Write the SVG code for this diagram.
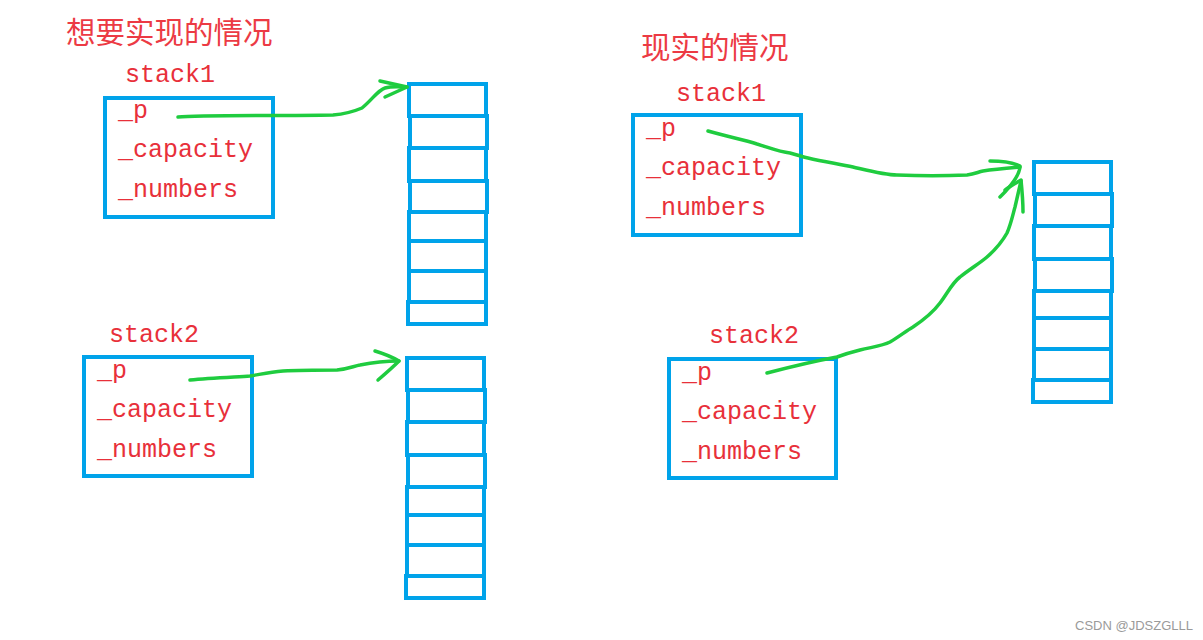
<svg xmlns="http://www.w3.org/2000/svg" width="1203" height="640" viewBox="0 0 1203 640">
<style>
.bg{fill:#ffffff}
.title{font-family:"Noto Sans CJK SC","Noto Sans CJK JP",sans-serif;font-size:29.5px;fill:#ec3a44}
.lbl{font-family:"Liberation Mono","DejaVu Sans Mono",monospace;font-size:25px;fill:#e8303a}
.box{fill:none;stroke:#00a3ea;stroke-width:4}
.cell{fill:none;stroke:#00a3ea;stroke-width:4}
.link{fill:none;stroke:#1fcc3f;stroke-width:3.5;stroke-linecap:round;stroke-linejoin:round}
.wm{font-family:"Liberation Sans",Arial,sans-serif;font-size:13px;fill:#9a9a9a}
</style>
<rect class="bg" x="0" y="0" width="1203" height="640"/>

<g id="title-left"><text class="title" x="66" y="43">想要实现的情况</text></g>
<g id="title-right"><text class="title" x="641" y="58">现实的情况</text></g>

<g id="stack1-left">
<text class="lbl" x="125" y="82">stack1</text>
<rect class="box" x="105" y="98" width="168" height="119"/>
<text class="lbl" x="118" y="118">_p</text>
<text class="lbl" x="118" y="157">_capacity</text>
<text class="lbl" x="118" y="197">_numbers</text>
</g>

<g id="stack2-left">
<text class="lbl" x="109" y="342">stack2</text>
<rect class="box" x="84" y="357" width="168" height="119"/>
<text class="lbl" x="97" y="378">_p</text>
<text class="lbl" x="97" y="417">_capacity</text>
<text class="lbl" x="97" y="457">_numbers</text>
</g>

<g id="stack1-right">
<text class="lbl" x="676" y="101">stack1</text>
<rect class="box" x="633" y="115" width="168" height="120"/>
<text class="lbl" x="646" y="136">_p</text>
<text class="lbl" x="646" y="175">_capacity</text>
<text class="lbl" x="646" y="215">_numbers</text>
</g>

<g id="stack2-right">
<text class="lbl" x="709" y="343">stack2</text>
<rect class="box" x="669" y="359" width="167" height="119"/>
<text class="lbl" x="682" y="380">_p</text>
<text class="lbl" x="682" y="419">_capacity</text>
<text class="lbl" x="682" y="459">_numbers</text>
</g>

<g id="array1">
<rect class="cell" x="409" y="84" width="77" height="32"/>
<rect class="cell" x="410" y="116" width="77" height="32"/>
<rect class="cell" x="409" y="148" width="77" height="33"/>
<rect class="cell" x="410" y="181" width="77" height="31"/>
<rect class="cell" x="409" y="212" width="77" height="29"/>
<rect class="cell" x="409" y="241" width="77" height="30"/>
<rect class="cell" x="409" y="271" width="77" height="31"/>
<rect class="cell" x="408" y="302" width="78" height="22"/>
</g>

<g id="array2">
<rect class="cell" x="407" y="358" width="77" height="32"/>
<rect class="cell" x="408" y="390" width="77" height="32"/>
<rect class="cell" x="407" y="422" width="77" height="33"/>
<rect class="cell" x="408" y="455" width="77" height="32"/>
<rect class="cell" x="407" y="487" width="77" height="28"/>
<rect class="cell" x="407" y="515" width="77" height="30"/>
<rect class="cell" x="407" y="545" width="77" height="31"/>
<rect class="cell" x="406" y="576" width="78" height="22"/>
</g>

<g id="array3">
<rect class="cell" x="1034" y="162" width="77" height="32"/>
<rect class="cell" x="1035" y="194" width="77" height="32"/>
<rect class="cell" x="1034" y="226" width="77" height="33"/>
<rect class="cell" x="1035" y="259" width="77" height="32"/>
<rect class="cell" x="1034" y="291" width="77" height="27"/>
<rect class="cell" x="1034" y="318" width="77" height="31"/>
<rect class="cell" x="1034" y="349" width="77" height="31"/>
<rect class="cell" x="1033" y="380" width="78" height="22"/>
</g>

<g id="connectors">
<path class="link" d="M178,117 C200,115 280,116 333,115 C345,114 355,111 362,108 C372,100 378,90 385,88 C392,86 400,87 407,87"/>
<path class="link" d="M380,81 L407,87 L385,97"/>
<path class="link" d="M190,380 C210,378 235,377 250,376 C262,374 270,372 283,371 C300,370 320,370 337,370 C348,369 354,366 360,365 C375,362 388,361 399,361"/>
<path class="link" d="M375,351 C385,354 392,357 399,361 C392,368 385,374 378,380"/>
<path class="link" d="M708,131 C725,136 745,140 757,144 C770,148 780,152 790,153 C798,155 803,157 808,158 C825,162 840,164 853,167 C870,171 885,175 897,175 C920,176 945,176 967,175 C975,174 978,172 983,171 C995,169 1008,168 1020,167"/>
<path class="link" d="M990,161 C1000,161 1012,162 1020,166 C1020,172 1017,180 1000,197"/>
<path class="link" d="M767,373 C790,367 815,361 837,357 C845,354 852,352 860,350 C872,347 882,346 890,342 C900,336 906,331 913,327 C925,319 934,311 940,303 C947,294 952,283 960,277 C970,269 980,263 987,257 C995,250 1002,242 1007,233 C1011,224 1013,214 1015,207 C1017,198 1019,190 1021,181"/>
<path class="link" d="M1005,190 C1010,186 1016,183 1021,180 C1022,190 1023,200 1023,212"/>
</g>

<g id="watermark"><text class="wm" x="1075" y="630">CSDN @JDSZGLLL</text></g>
</svg>
